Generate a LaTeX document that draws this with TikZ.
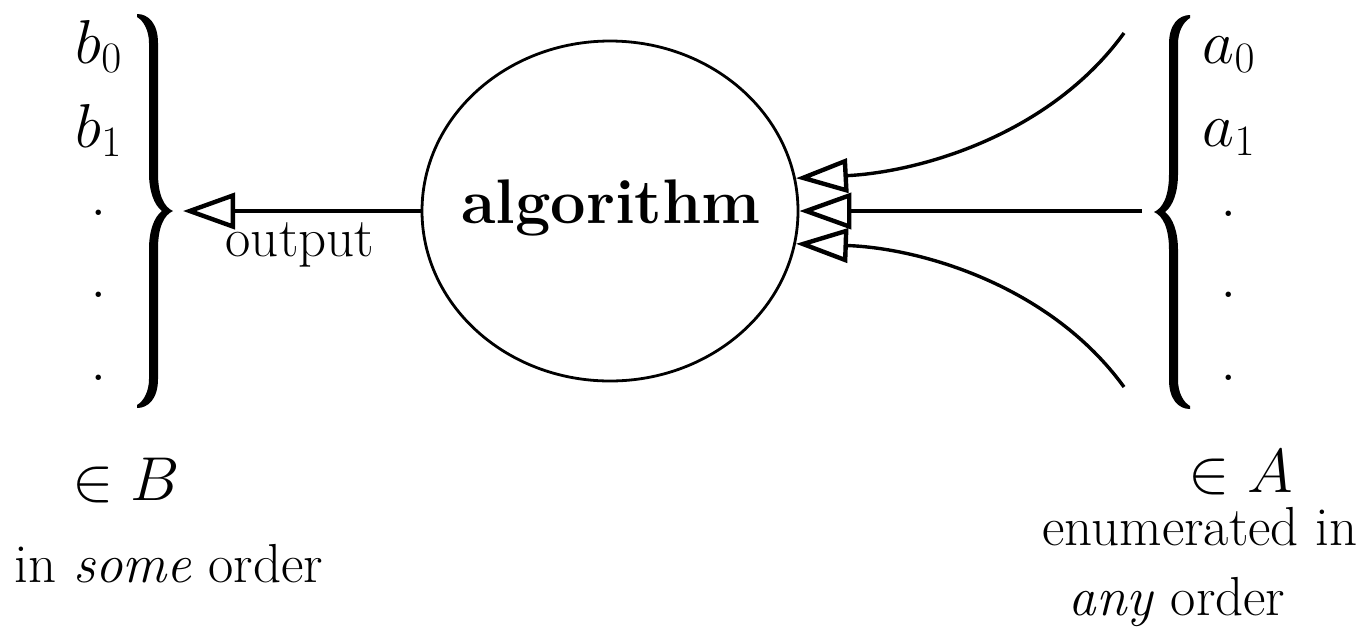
\RequirePackage{fix-cm}
\documentclass[tikz,border=0pt]{standalone}
\usetikzlibrary{shapes.geometric,arrows.meta}
\tikzset{
  closebrace/.pic={
    \fill (-35,-197) .. controls (-24,-197) and (-14,-188) .. (-14,-168) -- (-14,-38)
      .. controls (-14,-16) and (-8,-4) .. (1,0)
      .. controls (-8,4) and (-14,16) .. (-14,38) -- (-14,168)
      .. controls (-14,188) and (-24,197) .. (-35,197) -- (-35,194)
      .. controls (-28,190) and (-23,180) .. (-23,168) -- (-23,38)
      .. controls (-23,20) and (-18,6) .. (-10,0)
      .. controls (-18,-6) and (-23,-20) .. (-23,-38) -- (-23,-168)
      .. controls (-23,-180) and (-28,-190) .. (-35,-194) -- cycle;
  }
}
\begin{document}
\begin{tikzpicture}[x=0.5pt,y=-0.5pt,
  mathtxt/.style={inner sep=0pt,anchor=base,font=\fontsize{31}{37}\selectfont},
  dottxt/.style={inner sep=0pt,anchor=base,font=\fontsize{33}{40}\selectfont},
  plaintxt/.style={inner sep=0pt,anchor=base,font=\fontsize{27.5}{33}\selectfont},
  arr/.style={-{Triangle[open,length=26pt,width=18pt]},line width=2.2pt},
  carr/.style={-{Triangle[open,length=26pt,width=17pt,line width=2.2pt]},line width=1.7pt},
  algbox/.style={ellipse,draw,line width=1.4pt,minimum width=188pt,minimum height=170pt,inner sep=0pt}
]
\useasboundingbox (0,0) rectangle (1369,628);

% braces
\pic at (172,211) {closebrace};
\pic[xscale=-1] at (1155,212) {closebrace};

% algorithm ellipse
\node[algbox] (alg) at (610,211) {};
\node[inner sep=0pt,anchor=base,font=\fontsize{31.5}{38}\selectfont\bfseries] (algtxt) at (611,223) {algorithm};

% left column
\node[mathtxt] (b0) at (99,63) {$b_0$};
\node[mathtxt] (b1) at (99,147) {$b_1$};
\node[dottxt] (bd1) at (99,215) {.};
\node[dottxt] (bd2) at (99,297) {.};
\node[dottxt] (bd3) at (99,380) {.};

% right column
\node[mathtxt] (a0) at (1229,63) {$a_0$};
\node[mathtxt] (a1) at (1229,146) {$a_1$};
\node[dottxt] (ad1) at (1229,216) {.};
\node[dottxt] (ad2) at (1229,297) {.};
\node[dottxt] (ad3) at (1229,380) {.};

% labels
\node[mathtxt] (inB) at (126,500) {$\in B$};
\node[mathtxt] (inA) at (1241,492) {$\in A$};
\node[plaintxt] (some) at (169,582) {in \emph{some} order};
\node[plaintxt] (enum) at (1200,545) {enumerated in};
\node[plaintxt] (any) at (1177,615) {\emph{any} order};
\node[plaintxt] (out) at (300,256) {output};

% connectors
\coordinate (lin) at (183,211);
\coordinate (rin) at (1142,211);
\coordinate (ustart) at (1124,33);
\coordinate (lstart) at (1124,387);

\draw[arr] (alg.west) -- (lin);
\draw[arr] (rin) -- (alg.east);
\draw[carr] (ustart) .. controls (1050,135) and (920,172) .. (alg.10);
\draw[carr] (lstart) .. controls (1050,285) and (920,248) .. (alg.-10);
\end{tikzpicture}
\end{document}
